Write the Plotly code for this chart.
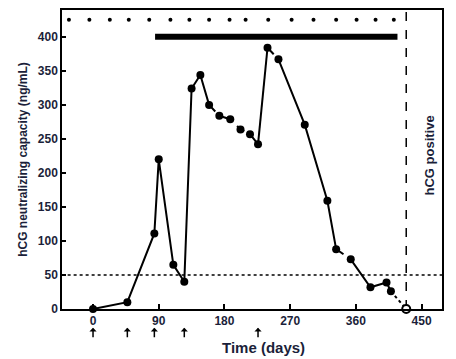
import plotly.graph_objects as go

# ---- data ----
days = [0, 47, 84, 90, 110, 125, 135, 147, 159, 173, 188, 202, 215, 226, 239, 254, 290, 321, 333, 353, 380, 402, 408]
values = [0, 10, 111, 220, 65, 40, 324, 344, 300, 284, 279, 264, 257, 242, 384, 367, 271, 159, 88, 73, 32, 39, 26]
final_day = 429          # hCG positive (open circle)
final_value = 0

# segment boundaries (index pairs) and their line styles
segments = [(0, 8, "solid"), (8, 13, "dash"), (13, 14, "solid"), (14, 15, "dash"),
            (15, 18, "solid"), (18, 19, "dash"), (19, 22, "solid")]

cycle_days = [-33, -5, 23, 49, 77, 106, 132, 159, 187, 209, 240, 272, 302, 333, 361, 387, 412]
cycle_level = 425
bar_start, bar_end, bar_level = 85, 417, 400
threshold = 50
injection_days = [0, 47, 84, 125, 226]

x_ticks = [0, 90, 180, 270, 360, 450]
y_ticks = [0, 50, 100, 150, 200, 250, 300, 350, 400]

INK = "#1b1f3a"
FONT = "Liberation Sans, Arial, sans-serif"
Y_TOP = 439.5

fig = go.Figure()

# threshold dotted line
fig.add_trace(go.Scatter(x=[-43, 478], y=[threshold, threshold], mode="lines",
                         line=dict(color="black", width=1.5, dash="dot"),
                         hoverinfo="skip", showlegend=False))
# hCG positive vertical dashed line
fig.add_trace(go.Scatter(x=[final_day, final_day], y=[0, Y_TOP], mode="lines",
                         line=dict(color="black", width=1.5, dash="dash"),
                         hoverinfo="skip", showlegend=False))
# cycle dots
fig.add_trace(go.Scatter(x=cycle_days, y=[cycle_level] * len(cycle_days), mode="markers",
                         marker=dict(color="black", size=4), showlegend=False))
# thick bar
fig.add_trace(go.Scatter(x=[bar_start, bar_end], y=[bar_level, bar_level], mode="lines",
                         line=dict(color="black", width=6), showlegend=False))

# data line segments
for a, b, style in segments:
    fig.add_trace(go.Scatter(x=days[a:b + 1], y=values[a:b + 1], mode="lines",
                             line=dict(color="black", width=2, dash=style),
                             showlegend=False, cliponaxis=False))
# last dotted segment to hCG positive
fig.add_trace(go.Scatter(x=[days[-1], final_day], y=[values[-1], final_value], mode="lines",
                         line=dict(color="black", width=2, dash="dot"),
                         showlegend=False, cliponaxis=False))
# markers
fig.add_trace(go.Scatter(x=days, y=values, mode="markers",
                         marker=dict(color="black", size=8),
                         showlegend=False, cliponaxis=False))
fig.add_trace(go.Scatter(x=[final_day], y=[final_value], mode="markers",
                         marker=dict(color="white", size=8, line=dict(color="black", width=2)),
                         showlegend=False, cliponaxis=False))

# injection arrows below the axis
for d in injection_days:
    fig.add_annotation(x=d, y=-0.063, xref="x", yref="paper", ax=0, ay=11,
                       text="", showarrow=True, arrowhead=1, arrowsize=0.8,
                       arrowwidth=1.5, arrowcolor="black")

fig.add_annotation(x=461, y=225, xref="x", yref="y", text="hCG positive",
                   textangle=-90, showarrow=False,
                   font=dict(family=FONT, size=13, color=INK, weight="bold"))
fig.add_annotation(x=0.53, y=-0.128, xref="paper", yref="paper", text="Time (days)",
                   showarrow=False, yanchor="middle",
                   font=dict(family=FONT, size=15, color=INK, weight="bold"))

fig.update_xaxes(range=[-42.5, 478], tickvals=x_ticks, ticks="inside", ticklen=5,
                 tickwidth=1.5, tickcolor="black", showgrid=False, zeroline=False,
                 showline=True, linecolor="black", linewidth=1.5, mirror=True,
                 tickfont=dict(family=FONT, size=12, color=INK, weight="bold"))
fig.update_yaxes(range=[0, Y_TOP], tickvals=y_ticks, ticks="inside", ticklen=4,
                 tickwidth=1.5, tickcolor="black", showgrid=False, zeroline=False,
                 showline=True, linecolor="black", linewidth=1.5, mirror=True,
                 tickfont=dict(family=FONT, size=12, color=INK, weight="bold"),
                 title=dict(text="hCG neutralizing capacity (ng/mL)", standoff=8,
                            font=dict(family=FONT, size=12, color=INK, weight="bold")))

# page body adds an 8px offset, so the figure is 8px smaller with shifted margins
fig.update_layout(width=448, height=351, margin=dict(l=54, r=14, t=0, b=50),
                  plot_bgcolor="white", paper_bgcolor="white", showlegend=False)

fig.write_html("out.html")
